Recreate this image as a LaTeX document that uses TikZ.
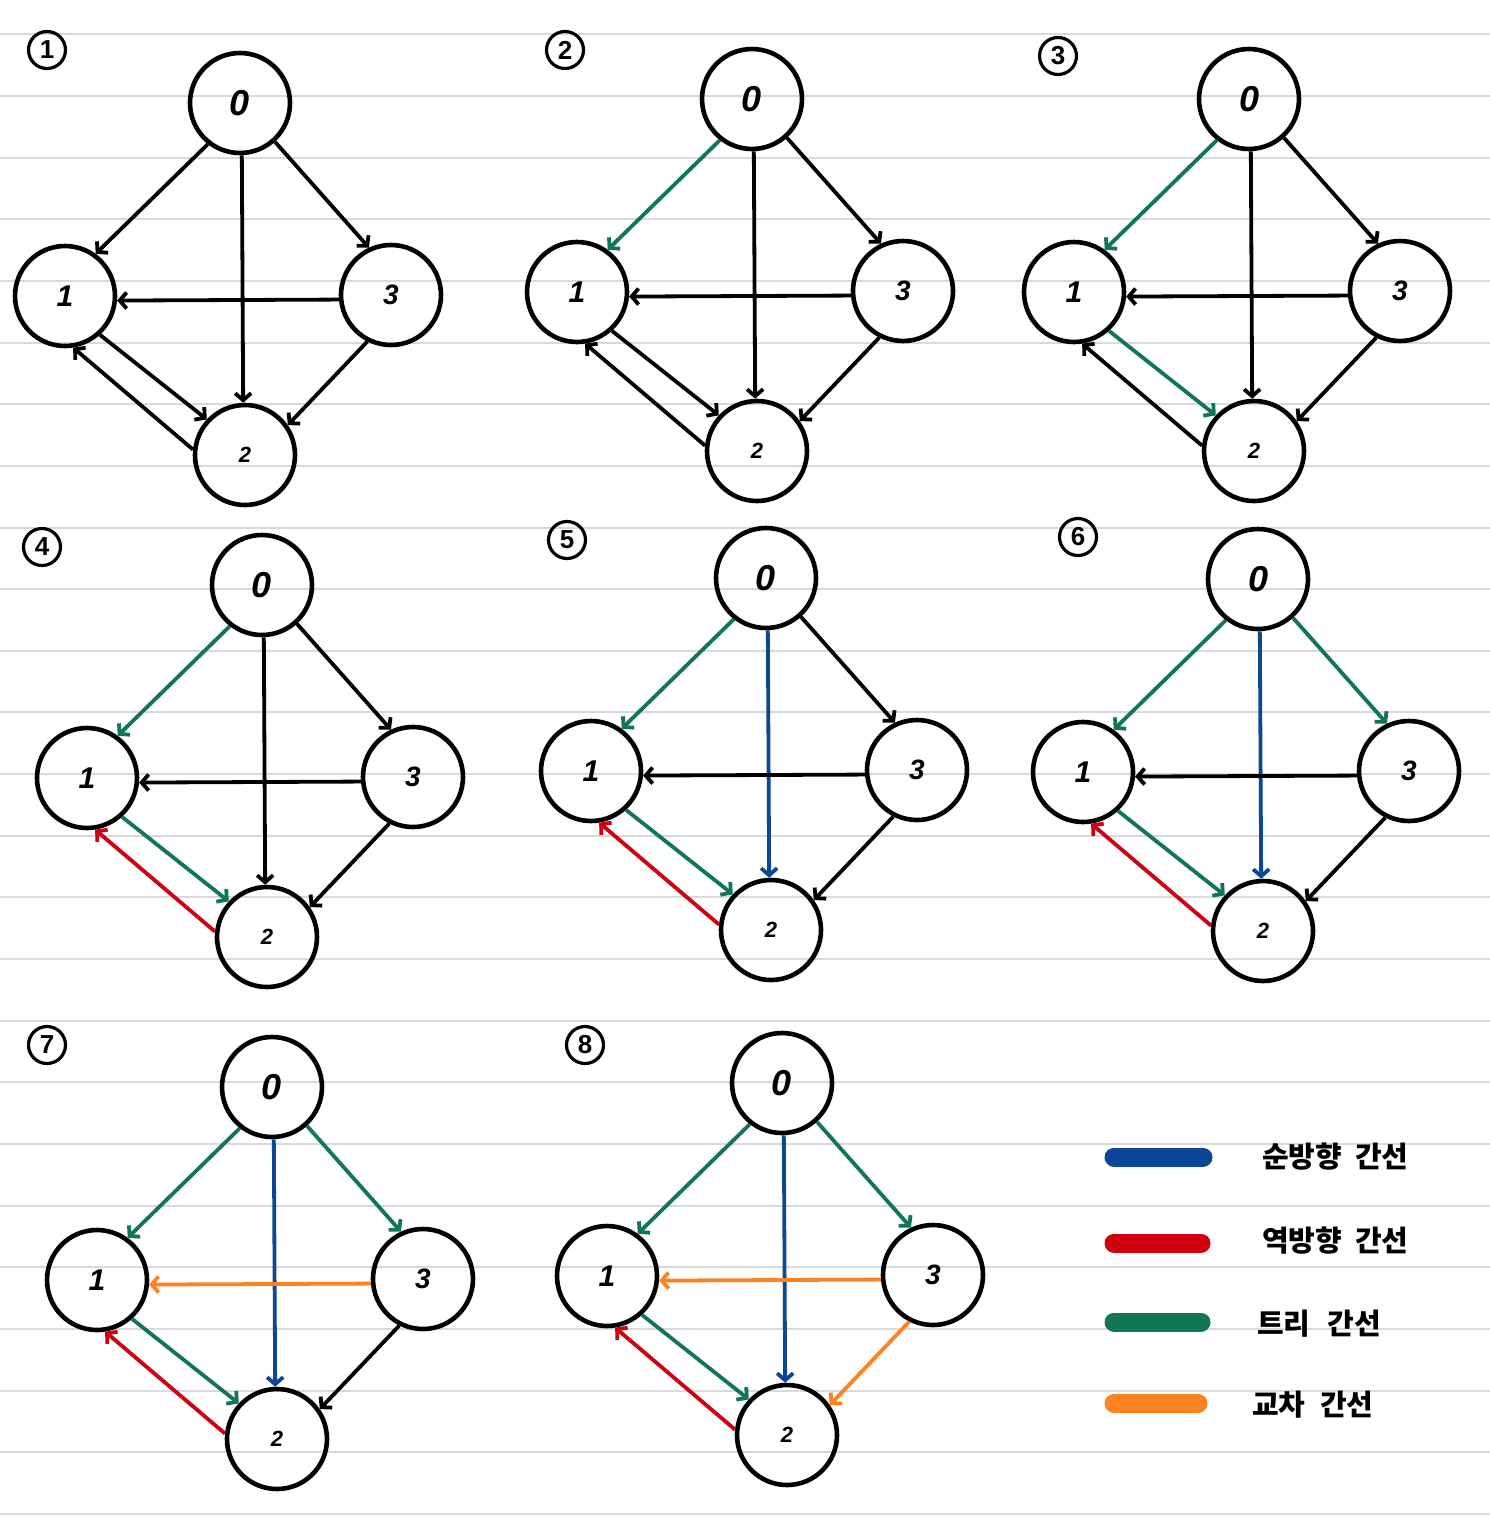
\documentclass[tikz,border=0pt]{standalone}
\usepackage{fontspec}
\setmainfont{Liberation Sans}
\newfontfamily\krfont{Noto Sans CJK KR}
\usetikzlibrary{arrows.meta}
\definecolor{cblue}{RGB}{12,70,150}
\definecolor{cred}{RGB}{208,0,14}
\definecolor{cgreen}{RGB}{16,118,84}
\definecolor{corange}{RGB}{255,130,34}
\definecolor{crule}{RGB}{217,217,217}
\tikzset{
  vert/.style={circle, draw=black, line width=4.6pt, minimum size=100pt, inner sep=0pt},
  dzero/.style={font=\fontsize{36}{36}\selectfont\bfseries\itshape},
  done/.style={font=\fontsize{30}{30}\selectfont\bfseries\itshape},
  dtwo/.style={font=\fontsize{22}{22}\selectfont\bfseries\itshape},
  dthree/.style={font=\fontsize{28}{28}\selectfont\bfseries\itshape},
  edge/.style={line width=3.8pt, -{Straight Barb[length=7pt,width=16pt]}},
  plabel/.style={circle, draw=black, line width=3.2pt, minimum size=37pt, inner sep=0pt,
    font=\fontsize{26}{26}\selectfont\bfseries},
  rule/.style={crule, line width=2pt},
  legbar/.style={line width=19pt, line cap=round},
  legtext/.style={anchor=west, inner sep=0pt, font=\krfont\bfseries\fontsize{29}{29}\selectfont}
}
% #1 prefix, #2 x of node 0, #3 y of node 0
\newcommand\panelnodes[3]{%
  \node[vert,dzero]  (#1n0) at (#2,#3) {0};
  \node[vert,done]   (#1n1) at (#2-175,#3+193) {1};
  \node[vert,dthree] (#1n3) at (#2+151,#3+192) {3};
  \node[vert,dtwo]   (#1n2) at (#2+5,#3+352) {2};
}
% #1 prefix, colours of edges 0-1, 0-2, 0-3, 3-1, 1-2, 2-1, 3-2
\newcommand\paneledges[8]{%
  \draw[edge,#2] (#1n0.232) -- (#1n1.54);
  \draw[edge,#3] (#1n0.-88) -- (#1n2.92);
  \draw[edge,#4] (#1n0.-48) -- (#1n3.115);
  \draw[edge,#5] (#1n3.185) -- (#1n1.-5);
  \draw[edge,#6] (#1n1.-48) -- (#1n2.137);
  \draw[edge,#7] (#1n2.174) -- (#1n1.-81);
  \draw[edge,#8] (#1n3.243) -- (#1n2.35);
}
\begin{document}
\begin{tikzpicture}[x=1pt,y=-1pt]
\useasboundingbox (0,0) rectangle (1490,1518);
\fill[white] (0,0) rectangle (1490,1518);
\foreach \k in {0,...,24} {
  \draw[rule] (0,34.3+61.65*\k) -- (1490,34.3+61.65*\k);
}
% panel labels
\node[plabel] (l1) at (47,50) {1};
\node[plabel] (l2) at (565,50) {2};
\node[plabel] (l3) at (1058,56) {3};
\node[plabel] (l4) at (42,547) {4};
\node[plabel] (l5) at (567,540) {5};
\node[plabel] (l6) at (1078,537) {6};
\node[plabel] (l7) at (47,1045) {7};
\node[plabel] (l8) at (585,1045) {8};
% panels
\panelnodes{a}{240}{103}
\paneledges{a}{black}{black}{black}{black}{black}{black}{black}
\panelnodes{b}{752}{99}
\paneledges{b}{cgreen}{black}{black}{black}{black}{black}{black}
\panelnodes{c}{1249}{99}
\paneledges{c}{cgreen}{black}{black}{black}{cgreen}{black}{black}
\panelnodes{d}{262}{585}
\paneledges{d}{cgreen}{black}{black}{black}{cgreen}{cred}{black}
\panelnodes{e}{766}{578}
\paneledges{e}{cgreen}{cblue}{black}{black}{cgreen}{cred}{black}
\panelnodes{f}{1258}{579}
\paneledges{f}{cgreen}{cblue}{cgreen}{black}{cgreen}{cred}{black}
\panelnodes{g}{272}{1087}
\paneledges{g}{cgreen}{cblue}{cgreen}{corange}{cgreen}{cred}{black}
\panelnodes{h}{782}{1083}
\paneledges{h}{cgreen}{cblue}{cgreen}{corange}{cgreen}{cred}{corange}
% legend
\draw[legbar,cblue]   (1114,1157) -- (1203,1157);
\draw[legbar,cred]    (1114,1243) -- (1201,1243);
\draw[legbar,cgreen]  (1114,1322) -- (1201,1322);
\draw[legbar,corange] (1114,1403) -- (1198,1403);
\node[legtext] (t1) at (1262,1157) {순방향\hspace{0.45em}간선};
\node[legtext] (t2) at (1262,1241) {역방향\hspace{0.45em}간선};
\node[legtext] (t3) at (1257,1324) {트리\hspace{0.6em}간선};
\node[legtext] (t4) at (1252,1405) {교차\hspace{0.5em}간선};
\end{tikzpicture}
\end{document}
